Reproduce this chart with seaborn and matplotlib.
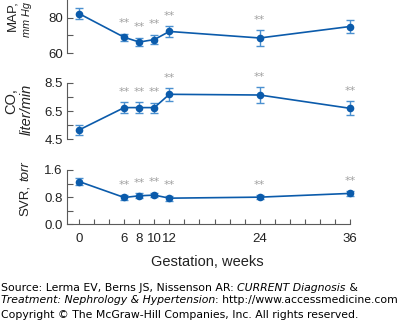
import matplotlib
matplotlib.use("Agg")
import matplotlib.pyplot as plt
import seaborn as sns
import pandas as pd
import numpy as np

weeks = [0, 6, 8, 10, 12, 24, 36]
map_mean = [82.3, 68.9, 66.2, 67.6, 72.2, 68.5, 75.0]
map_err = [3.0, 2.0, 2.5, 2.7, 3.0, 4.5, 3.7]
map_sig = [False, True, True, True, True, True, False]
co_mean = [5.16, 6.74, 6.74, 6.74, 7.68, 7.63, 6.69]
co_err = [0.35, 0.38, 0.38, 0.35, 0.45, 0.55, 0.50]
co_sig = [False, True, True, True, True, True, True]
svr_mean = [1.26, 0.79, 0.84, 0.86, 0.77, 0.80, 0.91]
svr_err = [0.10, 0.07, 0.07, 0.07, 0.07, 0.06, 0.07]
svr_sig = [False, True, True, True, True, True, True]
xtick_labels = ["0", "6", "8", "10", "12", "24", "36"]

sns.set_theme(style="white")
plt.rcParams['font.family'] = ['Liberation Sans', 'DejaVu Sans']

LINE = "#0b5bab"
ERR = "#4b90d0"
GRAY = "#a0a0a0"
SPINE = "#5a5a5a"
TXT = "#222222"

W, H = 399, 325
fig = plt.figure(figsize=(W / 100, H / 100), dpi=100)

def px_rect(top, bottom, left=67, right=350):
    return [left / W, 1 - bottom / H, (right - left) / W, (bottom - top) / H]

panels = [
    (map_mean, map_err, map_sig, (60, 90), [60, 80], [70], px_rect(0, 53), "%d"),
    (co_mean, co_err, co_sig, (4.5, 8.5), [4.5, 6.5, 8.5], [5.5, 7.5], px_rect(82.7, 139.3), "%.1f"),
    (svr_mean, svr_err, svr_sig, (0, 1.6), [0.0, 0.8, 1.6], [0.4, 1.2], px_rect(170, 224.3), "%.1f"),
]

axes = []
for i, (mean, err, sig, ylim, yt, ymt, rect, fmt) in enumerate(panels):
    ax = fig.add_axes(rect)
    axes.append(ax)
    df = pd.DataFrame({"week": weeks, "val": mean})
    ax.errorbar(weeks, mean, yerr=err, fmt="none", ecolor=ERR, elinewidth=1.0,
                capsize=3.0, capthick=1.0, zorder=2, clip_on=False)
    sns.lineplot(data=df, x="week", y="val", ax=ax, color=LINE, lw=1.2,
                 marker="o", markersize=5.5, markeredgewidth=0, zorder=3,
                 clip_on=False)
    ax.set_xlim(-1.6, 36)
    ax.set_ylim(*ylim)
    ax.set_yticks(yt)
    ax.set_yticklabels([fmt % v for v in yt])
    ax.set_yticks(ymt, minor=True)
    ax.set_xlabel("")
    ax.set_ylabel("")
    for s in ["top", "right"]:
        ax.spines[s].set_visible(False)
    ax.spines["left"].set_color(SPINE)
    ax.spines["left"].set_linewidth(0.8)
    ax.tick_params(axis="y", which="both", direction="in", length=4.5, width=0.8,
                   color=SPINE, labelsize=9.5, pad=3, left=True, labelcolor=TXT)
    if i < 2:
        ax.spines["bottom"].set_visible(False)
        ax.set_xticks([])
    else:
        ax.spines["bottom"].set_color(SPINE)
        ax.spines["bottom"].set_linewidth(0.8)
        ax.set_xticks(list(range(0, 37, 2)))
        lab = {w: l for w, l in zip(weeks, xtick_labels)}
        ax.set_xticklabels([lab.get(t, "") for t in range(0, 37, 2)])
        ax.tick_params(axis="x", direction="in", length=3.5, width=0.8, color=SPINE,
                       labelsize=9.5, pad=6, bottom=True, labelcolor=TXT)
    ax.patch.set_alpha(0)
    for w, m, e, s in zip(weeks, mean, err, sig):
        if s:
            ax.annotate("**", (w, m + e), xytext=(0, 7.5), textcoords="offset points",
                        ha="center", va="center", color=GRAY, fontsize=8,
                        family="DejaVu Sans", annotation_clip=False)

fig.text(207 / W, 1 - 262 / H, "Gestation, weeks", ha="center", va="center",
         fontsize=10.5, color=TXT)

# y labels
def ylab(x, y, s, size, italic=False, va="center"):
    fig.text(x / W, 1 - y / H, s, rotation=90, ha="center", va=va,
             fontsize=size, color=TXT, style="italic" if italic else "normal")

ylab(12, 16, "MAP,", 9.5)
ylab(27, 37, "mm Hg", 7.8, True, va="bottom")
ylab(11, 101, "CO,", 10.5)
ylab(27, 109.5, "liter/min", 10.5, True)
ylab(25, 216, "SVR,", 9.5, va="bottom")
ylab(25, 181, "torr", 9.5, True, va="bottom")

# footer with mixed styles
fig.canvas.draw()
renderer = fig.canvas.get_renderer()

def footer_line(y, parts):
    x = 1.0
    for s, it in parts:
        t = fig.text(x / W, 1 - y / H, s, ha="left", va="center", fontsize=7.8,
                     family="DejaVu Sans", style="italic" if it else "normal",
                     color="black")
        bb = t.get_window_extent(renderer=renderer)
        x += bb.width

footer_line(288, [("Source: Lerma EV, Berns JS, Nissenson AR: ", False),
                  ("CURRENT Diagnosis", True), (" &", False)])
footer_line(300, [("Treatment: Nephrology & Hypertension", True),
                  (": http://www.accessmedicine.com", False)])
footer_line(315, [("Copyright \u00a9 The McGraw-Hill Companies, Inc. All rights reserved.", False)])

fig.savefig("out.png", dpi=100)
